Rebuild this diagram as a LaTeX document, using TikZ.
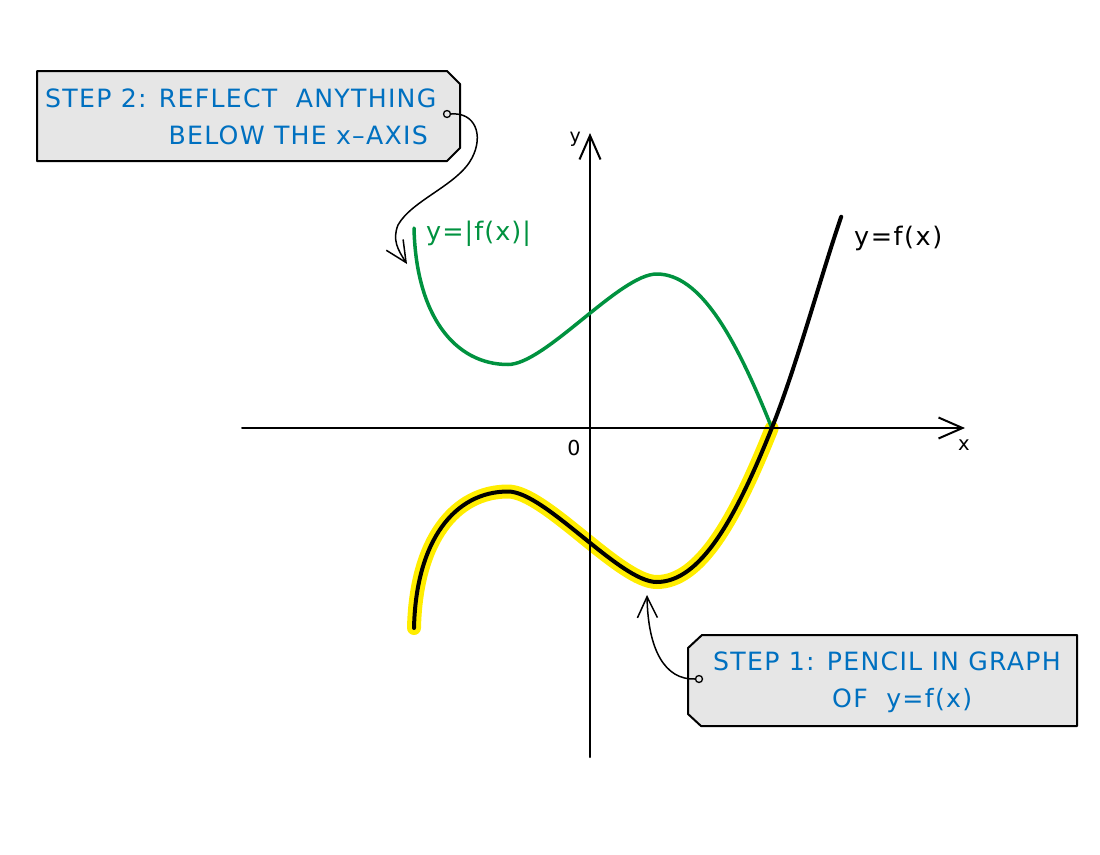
\documentclass[tikz,border=0pt]{standalone}
\usepackage{fontspec}
\setmainfont{DejaVu Sans}
\usetikzlibrary{arrows.meta}
\definecolor{txtblue}{RGB}{0,112,192}
\definecolor{grn}{RGB}{0,146,63}
\definecolor{hl}{RGB}{255,237,0}
\definecolor{boxfill}{RGB}{230,230,230}
\begin{document}
\begin{tikzpicture}[x=1pt,y=-1pt,
  axisline/.style={line width=2pt, line cap=round, -{Straight Barb[length=24pt,width=21pt]}},
  conn/.style={line width=1.5pt, -{Straight Barb[length=21pt,width=20pt]}},
  callout/.style={fill=boxfill, draw=black, line width=2pt, line join=round},
  dotnode/.style={circle, draw=black, fill=boxfill, line width=1.3pt, inner sep=0pt, minimum size=7pt},
  txt/.style={text=txtblue, font=\fontsize{25.2}{30}\selectfont\addfontfeature{LetterSpace=5}, inner sep=0pt},
  lbl/.style={inner sep=0pt},
  curvek/.style={line width=4pt, line cap=round, line join=round},
  curveg/.style={draw=grn, line width=3.5pt, line cap=round, line join=round},
  hlpath/.style={draw=hl, line width=14pt, line cap=round, line join=round}]
\useasboundingbox (0,0) rectangle (1100,854);

% highlight
\draw[hlpath] (414,628) .. controls (416,540) and (455,491.5) .. (508,491.5)
  .. controls (545,491.5) and (620,582) .. (656.7,582)
  .. controls (700,582) and (735,520) .. (771.7,428.3);

% axes
\coordinate (xl) at (242,428);
\coordinate (xr) at (965,428);
\coordinate (yb) at (590,757);
\coordinate (yt) at (590,133);
\draw[axisline] (xl) -- (xr);
\draw[axisline] (yb) -- (yt);
\node[lbl, font=\fontsize{19}{22}\selectfont, anchor=base east] (ylab) at (581,142) {y};
\node[lbl, font=\fontsize{19.6}{22}\selectfont, anchor=base] (xlab) at (964,450) {x};
\node[lbl, font=\fontsize{20.6}{24}\selectfont, anchor=base] (olab) at (574,455.7) {0};

% green |f(x)|
\draw[curveg] (414,228) .. controls (416,316) and (455,364.5) .. (508,364.5)
  .. controls (545,364.5) and (620,274) .. (656.7,274)
  .. controls (700,274) and (735,336) .. (771.7,427.7);

% black f(x)
\draw[curvek] (414,628) .. controls (416,540) and (455,491.5) .. (508,491.5)
  .. controls (545,491.5) and (620,582) .. (656.7,582)
  .. controls (700,582) and (735,520) .. (771.7,428.3)
  .. controls (796.7,365.8) and (821.2,274.7) .. (841.2,216.7);

\node[lbl, text=grn, font=\fontsize{25.5}{30}\selectfont\addfontfeature{LetterSpace=4}, anchor=base west] (glab) at (426,240) {y=|f(x)|};
\node[lbl, font=\fontsize{25.5}{30}\selectfont\addfontfeature{LetterSpace=6}, anchor=base west] (klab) at (854,245) {y=f(x)};

% callout step 2
\draw[callout] (37,71) -- (447,71) -- (460,84) -- (460,148) -- (447,161) -- (37,161) -- cycle;
\node[txt, anchor=base west] (s2a) at (45,107) {STEP 2: REFLECT\ \ ANYTHING};
\node[txt, anchor=base east] (s2b) at (428,144) {BELOW THE x–AXIS};
\node[dotnode] (d2) at (447,114) {};
\coordinate (t2) at (407,264);
\draw[conn] (d2.east) .. controls (475,112) and (484,135) .. (472,158) .. controls (458,185) and (412,200) .. (398,225) .. controls (392,240) and (398,250) .. (t2);

% callout step 1
\draw[callout] (702,635) -- (1077,635) -- (1077,726) -- (701,726) -- (688,714) -- (688,648) -- cycle;
\node[txt, anchor=base west] (s1a) at (713,670) {STEP 1: PENCIL IN GRAPH};
\node[txt, anchor=base west] (s1b) at (832,707) {OF\ \ y=f(x)};
\node[dotnode] (d1) at (699,679) {};
\coordinate (t1) at (647,595);
\draw[conn] (d1.west) .. controls (665,680) and (648,650) .. (t1);
\end{tikzpicture}
\end{document}
